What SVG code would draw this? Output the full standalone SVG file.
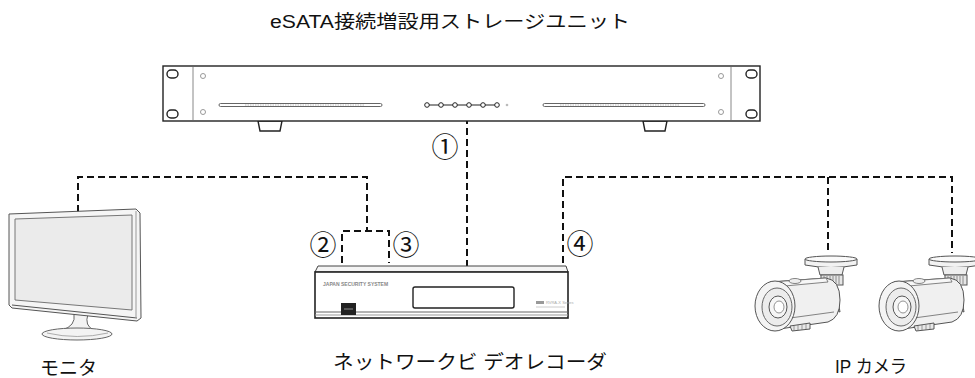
<svg xmlns="http://www.w3.org/2000/svg" width="975" height="378" viewBox="0 0 975 378">
  <style>
    .lbl { font-family: "Liberation Sans", "Noto Sans CJK JP", sans-serif; fill: #111; }
    .num { font-family: "Noto Sans CJK JP", "DejaVu Sans", sans-serif; font-size: 27px; fill: #111; text-anchor: middle; }
    .wire { fill: none; stroke: #111; stroke-width: 2; stroke-dasharray: 7 4; }
    .edge { fill: #fff; stroke: #222; stroke-width: 1.4; }
    .thin { fill: none; stroke: #555; stroke-width: 1; }
  </style>
  <defs>
    <g id="cam">
      <!-- ceiling mount plate -->
      <path d="M805,259 L805,265 Q831,270 857,265 L857,259 Z" fill="#f2f2f2" stroke="#555" stroke-width="1"/>
      <ellipse cx="831" cy="259" rx="26" ry="3" fill="#fafafa" stroke="#555" stroke-width="1"/>
      <path d="M818,267 L820,275 L842,275 L844,267" fill="#eee" stroke="#555" stroke-width="1"/>
      <!-- threaded arm -->
      <rect x="821" y="275" width="22" height="10" fill="#e6e6e6" stroke="#555" stroke-width="1"/>
      <path d="M824,276 V284 M827,276 V284 M830,276 V284 M833,276 V284 M836,276 V284 M839,276 V284" stroke="#777" stroke-width="0.8"/>
      <path d="M826,285 Q830,296 838,300 L840,312 Q832,310 826,298" fill="#efefef" stroke="#555" stroke-width="1"/>
      <!-- housing -->
      <path d="M770,282 L826,278 Q840,280 840,300 Q840,318 828,322 L772,330 Z" fill="#f0f0f0" stroke="#555" stroke-width="1"/>
      <path d="M772,282 L826,278 L828,282 L774,287 Z" fill="#f7f7f7" stroke="#666" stroke-width="0.8"/>
      <ellipse cx="795" cy="281" rx="6" ry="2.5" fill="#eee" stroke="#666" stroke-width="0.8"/>
      <path d="M790,318 L834,312" stroke="#666" stroke-width="0.8" fill="none"/>
      <!-- lens front -->
      <ellipse cx="775" cy="306" rx="20" ry="25" fill="#f4f4f4" stroke="#555" stroke-width="1"/>
      <ellipse cx="777" cy="307" rx="15" ry="19" fill="#ececec" stroke="#666" stroke-width="1"/>
      <ellipse cx="778" cy="307" rx="9" ry="11" fill="#f6f6f6" stroke="#555" stroke-width="1"/>
      <ellipse cx="779" cy="307" rx="5" ry="6" fill="#fff" stroke="#777" stroke-width="0.8"/>
      <!-- bottom bracket -->
      <path d="M790,326 L810,323 L810,329 L792,331 Z" fill="#e8e8e8" stroke="#555" stroke-width="1"/>
      <path d="M794,326 V331 M798,325 V330 M802,325 V330 M806,324 V329" stroke="#777" stroke-width="0.7"/>
    </g>
  </defs>

  <!-- title -->
  <text class="lbl" x="270" y="28" font-size="18" textLength="360" lengthAdjust="spacingAndGlyphs">eSATA接続増設用ストレージユニット</text>

  <!-- connectors -->
  <g id="connectors">
    <path class="wire" d="M467,106 V270"/>
    <path class="wire" d="M78,212 V177 H367 V231"/>
    <path class="wire" d="M342,263 V231 H389 V263"/>
    <path class="wire" d="M563,263 V177 H952 V253"/>
    <path class="wire" d="M828,177 V253"/>
    <text class="num" x="445" y="157">①</text>
    <text class="num" x="323" y="255">②</text>
    <text class="num" x="406" y="255">③</text>
    <text class="num" x="580" y="254">④</text>
  </g>

  <!-- eSATA storage unit -->
  <g id="storage">
    <path d="M258,121 L260,131 L280,131 L282,121 Z" class="edge"/>
    <path d="M643,121 L645,131 L665,131 L667,121 Z" class="edge"/>
    <rect x="163" y="66" width="597" height="55" class="edge" stroke-width="1.6"/>
    <line x1="193" y1="67" x2="193" y2="120" stroke="#888" stroke-width="1"/>
    <line x1="731" y1="67" x2="731" y2="120" stroke="#888" stroke-width="1"/>
    <rect x="167" y="70" width="11" height="8" rx="4" class="edge"/>
    <rect x="167" y="110" width="11" height="8" rx="4" class="edge"/>
    <rect x="746" y="70" width="11" height="8" rx="4" class="edge"/>
    <rect x="746" y="110" width="11" height="8" rx="4" class="edge"/>
    <g fill="#fff" stroke="#999" stroke-width="1">
      <circle cx="203" cy="76" r="2.5"/><circle cx="203" cy="112" r="2.5"/>
      <circle cx="721" cy="76" r="2.5"/><circle cx="721" cy="112" r="2.5"/>
    </g>
    <rect x="219" y="103.5" width="163" height="3" rx="1.5" fill="#fff" stroke="#666" stroke-width="1"/>
    <rect x="543" y="103.5" width="162" height="3" rx="1.5" fill="#fff" stroke="#666" stroke-width="1"/>
    <line x1="245" y1="105" x2="365" y2="105" stroke="#bbb" stroke-width="1" stroke-dasharray="1.5 1"/>
    <line x1="560" y1="105" x2="680" y2="105" stroke="#bbb" stroke-width="1" stroke-dasharray="1.5 1"/>
    <line x1="427" y1="105" x2="497" y2="105" stroke="#222" stroke-width="1.2"/>
    <g fill="#fff" stroke="#222" stroke-width="1">
      <circle cx="427" cy="105" r="2.3"/><circle cx="441" cy="105" r="2.3"/>
      <circle cx="455" cy="105" r="2.3"/><circle cx="469" cy="105" r="2.3"/>
      <circle cx="483" cy="105" r="2.3"/><circle cx="497" cy="105" r="2.3"/>
    </g>
    <circle cx="507" cy="105" r="1.3" fill="#bbb"/>
  </g>

  <!-- monitor -->
  <g id="monitor">
    <path d="M74,314 Q76,326 62,330 L94,330 Q84,326 88,314 Z" fill="#f3f3f3" stroke="#666" stroke-width="1"/>
    <ellipse cx="77" cy="334" rx="35" ry="6" fill="#f3f3f3" stroke="#666" stroke-width="1"/>
    <path d="M47,333 Q77,340 108,333" fill="none" stroke="#999" stroke-width="0.8"/>
    <path d="M9,214 L136,209 L140,213 L141,318 L137,321 L12,308 L9,305 Z" fill="#f5f5f5" stroke="#555" stroke-width="1"/>
    <path d="M15,219 L132,215 L132,310 L15,300 Z" fill="#ebebeb" stroke="#777" stroke-width="1"/>
    <path d="M12,305 L137,318" class="thin"/>
    <path d="M136,211 L136,318" stroke="#999" stroke-width="1"/>
    <text class="lbl" x="40" y="375" font-size="19" textLength="57" lengthAdjust="spacingAndGlyphs">モニタ</text>
  </g>

  <!-- network video recorder -->
  <g id="nvr">
    <path d="M318,266 L566,266 L568,272 L315,272 Z" fill="#f4f4f4" stroke="#444" stroke-width="1"/>
    <rect x="315" y="272" width="253" height="46" fill="#fff" stroke="#222" stroke-width="1.6"/>
    <line x1="315" y1="312" x2="568" y2="312" stroke="#666" stroke-width="1"/>
    <line x1="315" y1="315" x2="568" y2="315" stroke="#999" stroke-width="1"/>
    <rect x="413" y="287" width="101" height="21" rx="2" fill="#fff" stroke="#222" stroke-width="1.4"/>
    <rect x="341" y="303" width="15" height="12" fill="#222"/>
    <line x1="344" y1="309" x2="353" y2="309" stroke="#aaa" stroke-width="0.8"/>
    <text x="323" y="286" font-family="Liberation Sans, sans-serif" font-size="5" font-weight="bold" fill="#888">JAPAN SECURITY SYSTEM</text>
    <rect x="536" y="301" width="8" height="3" fill="#999"/>
    <text x="546" y="304" font-family="Liberation Sans, sans-serif" font-size="4" fill="#aaa">RVRA-X Series</text>
    <line x1="536" y1="307" x2="565" y2="307" stroke="#ccc" stroke-width="1"/>
    <text class="lbl" x="333" y="369" font-size="19" textLength="274" lengthAdjust="spacingAndGlyphs">ネットワークビ デオレコーダ</text>
  </g>

  <!-- IP cameras -->
  <g id="camera1">
    <use href="#cam"/>
  </g>
  <g id="camera2">
    <use href="#cam" transform="translate(124,0)"/>
  </g>
  <text class="lbl" x="835" y="373" font-size="18" textLength="72" lengthAdjust="spacingAndGlyphs">IP カメラ</text>
</svg>
